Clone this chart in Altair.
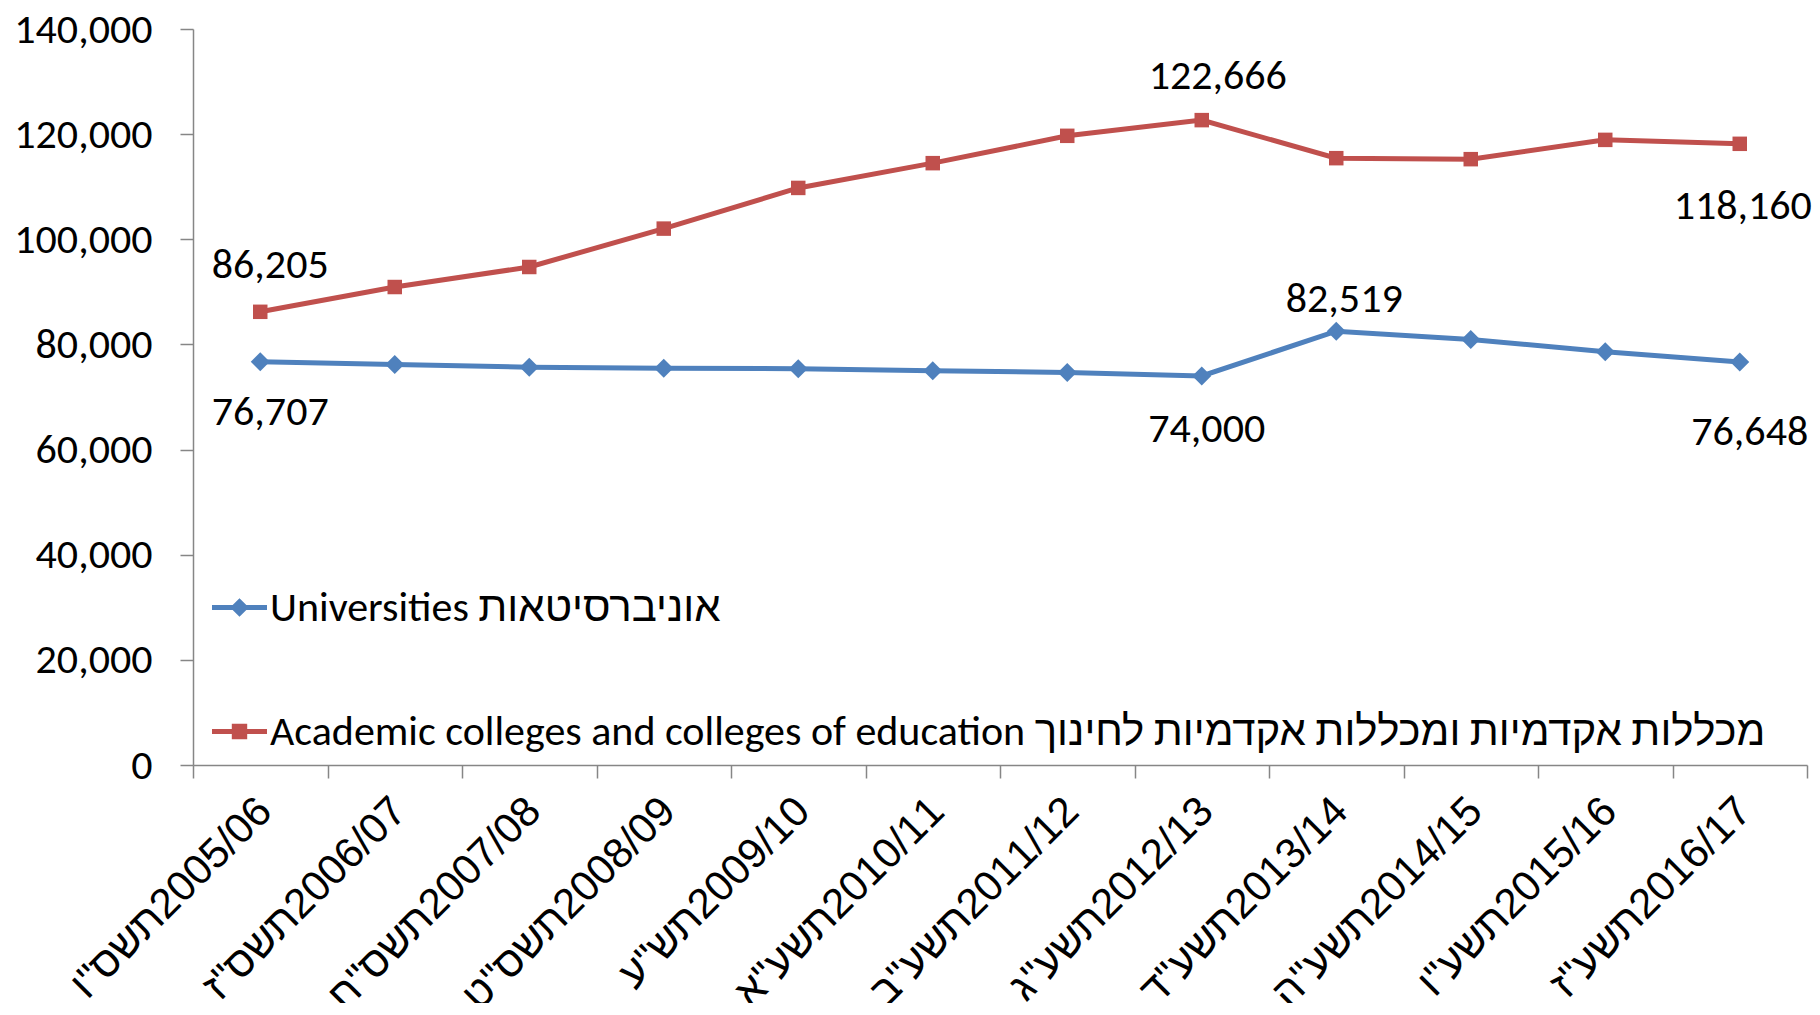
import altair as alt
import pandas as pd

# ---- data ----
years = ["2005/06", "2006/07", "2007/08", "2008/09", "2009/10", "2010/11",
         "2011/12", "2012/13", "2013/14", "2014/15", "2015/16", "2016/17"]
hebrew_years = ['תשס"ו', 'תשס"ז', 'תשס"ח', 'תשס"ט', 'תש"ע', 'תשע"א',
                'תשע"ב', 'תשע"ג', 'תשע"ד', 'תשע"ה', 'תשע"ו', 'תשע"ז']
universities = [76707, 76190, 75680, 75490, 75370, 74990,
                74670, 74000, 82519, 80950, 78600, 76648]
colleges = [86205, 90920, 94730, 102030, 109770, 114480,
            119680, 122666, 115430, 115240, 118910, 118160]
series_names = [
    "Universities אוניברסיטאות",
    "Academic colleges and colleges of education מכללות אקדמיות ומכללות אקדמיות לחינוך",
]
y_ticks = [0, 20000, 40000, 60000, 80000, 100000, 120000, 140000]

# category label: Hebrew year, left-to-right mark, Gregorian year
categories = [h + "\u200e" + y for h, y in zip(hebrew_years, years)]

rows = []
for s, vals in zip(series_names, [universities, colleges]):
    for c, v in zip(categories, vals):
        rows.append({"cat": c, "series": s, "value": v})
df = pd.DataFrame(rows)

# ---- styles ----
BLUE = "#4F81BD"
RED = "#C0504D"
AXIS = "#868686"
NUM_FONT = "Carlito, Calibri, 'Liberation Sans', Lato, sans-serif"
CAT_FONT = "'Liberation Sans', Arial, sans-serif"
NUM_SIZE = 42
series_colors = [BLUE, RED]
point_shapes = ["diamond", "square"]
point_sizes = [361, 210]
legend_paths = [
    "M-1,-0.09L1,-0.09L1,0.09L-1,0.09Z M0,-0.34L0.34,0L0,0.34L-0.34,0Z",
    "M-1,-0.09L1,-0.09L1,0.09L-1,0.09Z M-0.28,-0.28L0.28,-0.28L0.28,0.28L-0.28,0.28Z",
]
# (series index, category index, dx, dy) for the value labels
label_specs = [
    (1, 0, 10, -34), (1, 7, 16, -31), (1, 11, 3, 75),
    (0, 0, 10, 63), (0, 7, 5, 66), (0, 8, 8, -19), (0, 11, 10, 83),
]

x_enc = alt.X(
    "cat:N", sort=categories,
    scale=alt.Scale(type="band", domain=categories, paddingInner=0, paddingOuter=0),
    axis=alt.Axis(
        title=None, tickBand="extent", tickSize=13, tickColor=AXIS, tickWidth=1.5,
        domainColor=AXIS, domainWidth=1.5, labelAngle=-45, labelAlign="right",
        labelBaseline="middle", labelFont=CAT_FONT, labelFontSize=42,
        labelColor="black", labelOffset=4, labelPadding=26, labelLimit=1000,
        labelOverlap=False,
    ),
)
y_enc = alt.Y(
    "value:Q",
    scale=alt.Scale(domain=[0, 140000], nice=False, zero=True),
    axis=alt.Axis(
        values=y_ticks, format=",d", title=None, tickSize=13, tickColor=AXIS,
        tickWidth=1.5, domainColor=AXIS, domainWidth=1.5, labelPadding=28,
        labelFont=NUM_FONT, labelFontSize=NUM_SIZE, labelColor="black", grid=False,
    ),
)

base = alt.Chart(df)
layers = []
for i, name in enumerate(series_names):
    flt = alt.FieldEqualPredicate(field="series", equal=name)
    layers.append(
        base.mark_line(color=series_colors[i], strokeWidth=5)
        .encode(x=x_enc, y=y_enc).transform_filter(flt)
    )
    layers.append(
        base.mark_point(filled=True, opacity=1, shape=point_shapes[i],
                        size=point_sizes[i], color=series_colors[i])
        .encode(x=x_enc, y=y_enc).transform_filter(flt)
    )

for si, ci, dx, dy in label_specs:
    layers.append(
        base.mark_text(dx=dx, dy=dy, baseline="alphabetic", align="center",
                       font=NUM_FONT, fontSize=NUM_SIZE, color="black")
        .encode(x=x_enc, y=y_enc, text=alt.Text("value:Q", format=",d"))
        .transform_filter(alt.FieldEqualPredicate(field="series", equal=series_names[si]))
        .transform_filter(alt.FieldEqualPredicate(field="cat", equal=categories[ci]))
    )

leg = alt.Legend(
    title=None, orient="none", legendX=19, legendY=551, direction="vertical",
    rowPadding=75, labelOffset=3, padding=0, labelFont=NUM_FONT,
    labelFontSize=NUM_SIZE, labelColor="black", labelLimit=3000, symbolSize=3025,
    symbolStrokeWidth=0,
)
legend_layer = (
    base.mark_point(filled=True, opacity=1)
    .encode(
        shape=alt.Shape("series:N", scale=alt.Scale(domain=series_names, range=legend_paths), legend=leg),
        color=alt.Color("series:N", scale=alt.Scale(domain=series_names, range=series_colors), legend=leg),
    )
    .transform_filter("false")
)
layers.append(legend_layer)

chart = (
    alt.layer(*layers)
    .properties(
        width=1614, height=736,
        autosize=alt.AutoSizeParams(type="none"),
        padding={"left": 185, "top": 21, "right": 5, "bottom": 238},
    )
    .configure_view(stroke=None)
)

chart.save("out.html", embed_options={"renderer": "svg", "actions": False})
